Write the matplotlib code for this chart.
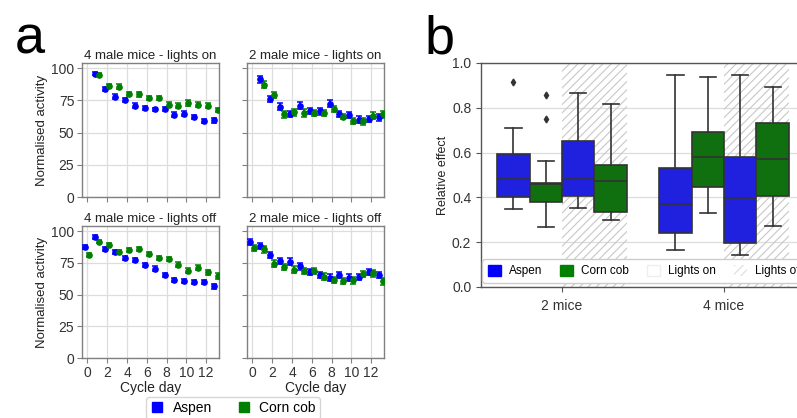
import matplotlib
matplotlib.use("Agg")
import matplotlib.pyplot as plt
from matplotlib.patches import Patch
from matplotlib.lines import Line2D

plt.rcParams['font.family'] = ['Liberation Sans', 'DejaVu Sans']
plt.rcParams['hatch.color'] = '#c8c8c8'
plt.rcParams['hatch.linewidth'] = 0.8

# ---- panel a: daily activity per cycle day ----
days_short = [1, 2, 3, 4, 5, 6, 7, 8, 9, 10, 11, 12, 13]
days_full = [0, 1, 2, 3, 4, 5, 6, 7, 8, 9, 10, 11, 12, 13]

on4_aspen = [95.8, 84.0, 78.0, 75.0, 71.0, 69.0, 68.0, 68.6, 64.0, 64.7, 62.0, 59.0, 59.4]
on4_corn = [94.8, 86.0, 85.6, 80.0, 79.6, 76.7, 77.0, 71.7, 71.0, 72.8, 71.7, 71.0, 67.5]
on4_aspen_err = [1.2, 1.5, 1.8, 1.6, 1.6, 1.4, 1.4, 1.6, 1.8, 1.8, 1.8, 1.6, 1.6]
on4_corn_err = [1.2, 1.5, 1.8, 1.6, 1.6, 1.6, 1.6, 1.8, 1.6, 2.2, 1.8, 2.2, 1.8]

on2_aspen = [91.4, 75.9, 70.2, 64.4, 71.0, 66.5, 66.5, 72.5, 64.4, 63.4, 59.9, 60.5, 61.8]
on2_corn = [87.2, 79.1, 64.1, 65.7, 65.2, 65.2, 65.2, 68.3, 62.3, 59.2, 58.6, 63.1, 64.1]
on2_aspen_err = [2.6, 2.4, 2.6, 2.6, 2.6, 2.4, 2.6, 3.0, 2.4, 2.4, 2.8, 2.6, 2.6]
on2_corn_err = [2.6, 2.6, 2.8, 2.6, 2.8, 2.4, 2.4, 2.6, 2.0, 2.4, 2.6, 2.6, 2.6]

off4_aspen = [87.2, 95.3, 85.9, 83.5, 79.1, 77.0, 73.1, 70.5, 65.5, 61.6, 60.6, 60.0, 59.8, 56.4]
off4_corn = [81.0, 91.6, 89.3, 83.5, 85.1, 85.6, 81.7, 78.9, 77.8, 73.6, 68.7, 71.3, 67.6, 64.8]
off4_aspen_err = [1.5, 1.3, 1.5, 1.5, 1.5, 1.5, 1.6, 1.6, 1.6, 1.6, 1.8, 1.8, 1.8, 1.8]
off4_corn_err = [1.5, 1.3, 1.5, 1.6, 1.6, 1.6, 1.6, 1.6, 1.6, 1.8, 2.0, 2.0, 2.0, 2.2]

off2_aspen = [91.4, 88.2, 81.2, 76.5, 76.0, 72.1, 67.6, 65.3, 63.4, 65.3, 63.4, 63.7, 67.9, 65.5]
off2_corn = [86.7, 85.6, 74.2, 71.8, 69.7, 68.7, 68.4, 64.2, 61.6, 60.6, 61.1, 66.3, 66.6, 60.3]
off2_aspen_err = [2.4, 2.6, 2.4, 2.4, 2.8, 2.6, 2.4, 2.4, 2.4, 2.4, 2.4, 2.4, 2.6, 2.6]
off2_corn_err = [2.4, 2.8, 2.8, 2.6, 2.6, 2.4, 2.4, 2.4, 2.4, 2.6, 2.6, 2.4, 2.4, 2.4]

titles = ['4 male mice - lights on', '2 male mice - lights on',
          '4 male mice - lights off', '2 male mice - lights off']

# ---- panel b: relative effect (box summary) ----
groups = ['2 mice', '4 mice']
# order per group: aspen on, corn on, aspen off, corn off
box_whislo = [0.349, 0.269, 0.352, 0.298, 0.163, 0.331, 0.141, 0.274]
box_q1 = [0.402, 0.378, 0.407, 0.334, 0.242, 0.448, 0.197, 0.408]
box_med = [0.482, 0.460, 0.482, 0.472, 0.369, 0.579, 0.396, 0.571]
box_q3 = [0.593, 0.466, 0.653, 0.543, 0.533, 0.690, 0.582, 0.733]
box_whishi = [0.709, 0.562, 0.868, 0.819, 0.948, 0.936, 0.945, 0.895]
box_fliers = [[0.917], [0.855, 0.752], [], [], [], [], [], []]

BLUE = '#0000ff'
GREEN = '#008000'
BLUE_BOX = '#2020df'
GREEN_BOX = '#107010'
GRID = '#dddddd'

W, H = 797, 418
fig = plt.figure(figsize=(W / 100, H / 100), dpi=100)


def px_axes(x0, y0, x1, y1):
    return fig.add_axes([x0 / W, 1 - y1 / H, (x1 - x0) / W, (y1 - y0) / H])


ax_tl = px_axes(82, 63, 219, 197)
ax_tr = px_axes(247, 63, 384, 197)
ax_bl = px_axes(82, 226, 219, 358)
ax_br = px_axes(247, 226, 384, 358)

panels = [
    (ax_tl, days_short, on4_aspen, on4_aspen_err, on4_corn, on4_corn_err),
    (ax_tr, days_short, on2_aspen, on2_aspen_err, on2_corn, on2_corn_err),
    (ax_bl, days_full, off4_aspen, off4_aspen_err, off4_corn, off4_corn_err),
    (ax_br, days_full, off2_aspen, off2_aspen_err, off2_corn, off2_corn_err),
]

for i, (ax, d, ya, ea, yc, ec) in enumerate(panels):
    ax.set_axisbelow(True)
    ax.grid(True, color=GRID, lw=0.9)
    xa = [v - 0.2 for v in d]
    xc = [v + 0.2 for v in d]
    ax.errorbar(xa, ya, yerr=ea, fmt='o', color=BLUE, ms=3.8, elinewidth=1.3,
                capsize=2, capthick=1.1, zorder=3)
    ax.errorbar(xc, yc, yerr=ec, fmt='o', color=GREEN, ms=3.8, elinewidth=1.3,
                capsize=2, capthick=1.1, zorder=3)
    ax.set_xlim(-0.55, 13.3)
    ax.set_ylim(0, 104)
    ax.set_xticks([0, 2, 4, 6, 8, 10, 12])
    ax.set_yticks([0, 25, 50, 75, 100])
    ax.set_title(titles[i], fontsize=9.5, color='#222222', pad=3)
    for s in ax.spines.values():
        s.set_color('#808080')
        s.set_linewidth(1.0)
    ax.tick_params(labelsize=10, colors='#333333', length=3.5, width=0.8,
                   pad=2)
    ax.tick_params(color='#808080')
    if i < 2:
        ax.tick_params(labelbottom=False)
    else:
        ax.set_xlabel('Cycle day', fontsize=10, color='#222222', labelpad=1)
    if i % 2 == 1:
        ax.tick_params(labelleft=False)
    else:
        ax.set_ylabel('Normalised activity', fontsize=9.5, color='#222222',
                      labelpad=2)

leg_handles = [
    Line2D([], [], marker='s', ls='none', color=BLUE, ms=7),
    Line2D([], [], marker='s', ls='none', color=GREEN, ms=7),
]
fig.legend(leg_handles, ['Aspen', 'Corn cob'], loc='upper center',
           bbox_to_anchor=(233 / W, 1 - 397 / H), ncol=2, fontsize=10,
           frameon=True, edgecolor='#cccccc', handletextpad=0.6,
           columnspacing=1.8, borderpad=0.3, handlelength=1.0,
           borderaxespad=0)

# ---- panel b ----
ax_b = px_axes(481, 63, 805, 287)
ax_b.set_axisbelow(True)
ax_b.yaxis.grid(True, color=GRID, lw=0.9)

offsets = [-0.3, -0.1, 0.1, 0.3]
face = [BLUE_BOX, GREEN_BOX, BLUE_BOX, GREEN_BOX]
for g in range(len(groups)):
    ax_b.axvspan(g, g + 0.4, facecolor='none', edgecolor='#c8c8c8', hatch='////',
                 lw=0, zorder=0.8)

stats, positions, colors = [], [], []
for g in range(len(groups)):
    for k in range(4):
        j = g * 4 + k
        stats.append(dict(med=box_med[j], q1=box_q1[j], q3=box_q3[j],
                          whislo=box_whislo[j], whishi=box_whishi[j],
                          fliers=box_fliers[j]))
        positions.append(g + offsets[k])
        colors.append(face[k])

bp = ax_b.bxp(stats, positions=positions, widths=0.2, patch_artist=True,
              showfliers=True, manage_ticks=False,
              boxprops=dict(edgecolor='#333333', lw=1.2),
              medianprops=dict(color='#333333', lw=1.2),
              whiskerprops=dict(color='#333333', lw=1.2),
              capprops=dict(color='#333333', lw=1.2),
              flierprops=dict(marker='d', ms=3.5, markerfacecolor='#333333',
                              markeredgecolor='#333333'))
for patch, c in zip(bp['boxes'], colors):
    patch.set_facecolor(c)
    patch.set_zorder(2)

ax_b.set_xlim(-0.5, 1.5)
ax_b.set_ylim(0, 1.0)
ax_b.set_xticks(range(len(groups)))
ax_b.set_xticklabels(groups)
ax_b.set_yticks([0, 0.2, 0.4, 0.6, 0.8, 1.0])
ax_b.set_ylabel('Relative effect', fontsize=9, color='#222222', labelpad=2)
ax_b.tick_params(labelsize=10, colors='#333333', length=3.5, width=0.8)
ax_b.tick_params(color='#555555')
ax_b.tick_params(axis='x', pad=5)
for s in ax_b.spines.values():
    s.set_color('#555555')
    s.set_linewidth(1.0)

b_handles = [
    Patch(facecolor=BLUE, edgecolor=BLUE),
    Patch(facecolor=GREEN, edgecolor=GREEN),
    Patch(facecolor='white', edgecolor='#eeeeee'),
    Patch(facecolor='white', edgecolor='#dddddd', hatch='////', lw=0),
]
ax_b.legend(b_handles, ['Aspen', 'Corn cob', 'Lights on', 'Lights off'],
            loc='lower left', bbox_to_anchor=(0.004, 0.02), ncol=4,
            fontsize=8.5, frameon=True, edgecolor='#cccccc', framealpha=1,
            handlelength=1.1, handleheight=1.1, handletextpad=0.7,
            columnspacing=1.5, borderpad=0.45, borderaxespad=0)

fig.text(15 / W, 1 - 53 / H, 'a', fontsize=39, color='black')
fig.text(425 / W, 1 - 53 / H, 'b', fontsize=39, color='black')

fig.savefig('out.png', dpi=100)
